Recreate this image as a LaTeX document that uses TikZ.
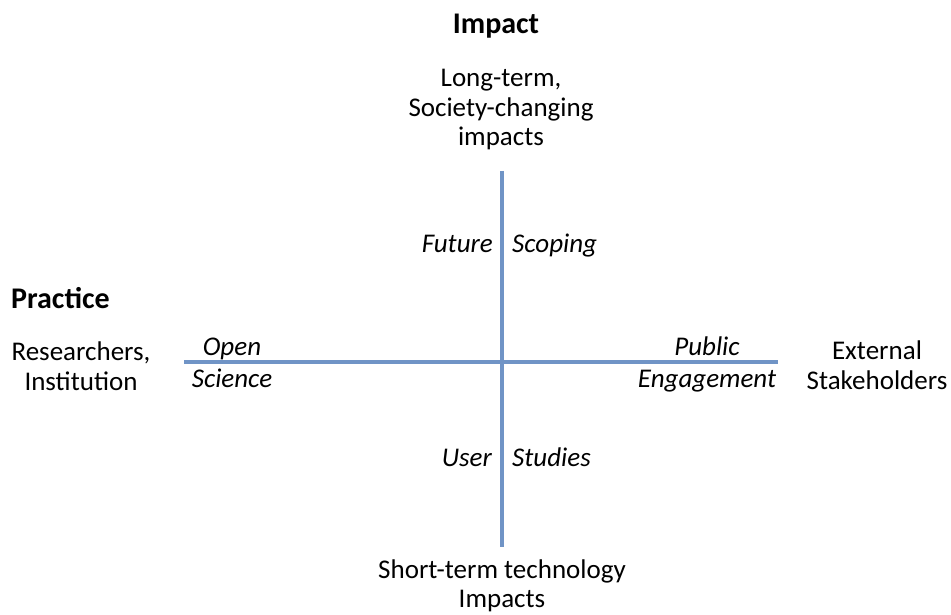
\documentclass[tikz,border=0pt]{standalone}
\usepackage{fontspec}
\setmainfont{Carlito}
\usepackage{tikz}

\definecolor{axisblue}{RGB}{112,148,198}

\begin{document}
\begin{tikzpicture}[x=1pt,y=-1pt,
  lbl/.style={inner sep=0pt,font=\fontsize{27}{29.5}\selectfont,align=center},
  quad/.style={lbl,font=\fontsize{27}{29.5}\selectfont\itshape},
  head/.style={lbl,font=\fontsize{30}{33}\selectfont\bfseries}]
\useasboundingbox (0,0) rectangle (951,615);

\coordinate (top) at (502,171);
\coordinate (bottom) at (502,547);
\coordinate (left) at (184,362);
\coordinate (right) at (778,362);
\draw[axisblue, line width=3.4pt] (top) -- (bottom);
\draw[axisblue, line width=3.4pt] (left) -- (right);

\node[head, anchor=base] (impact) at (496,34) {Impact};
\node[lbl] (longterm) at (501,110) {Long-term,\\Society-changing\\impacts};
\node[lbl] (shortterm) at (502,586) {Short-term technology\\Impacts};

\node[head, anchor=base west] (practice) at (11,308) {Practice};
\node[lbl] (researchers) at (81,366) {Researchers,\\Institution};
\node[lbl] (external) at (877,365) {External\\Stakeholders};

\node[quad, anchor=base east] (future) at (493,252) {Future};
\node[quad, anchor=base west] (scoping) at (512,252) {Scoping};
\node[quad, anchor=base east] (user) at (492,466) {User};
\node[quad, anchor=base west] (studies) at (512,466) {Studies};

\node[quad, anchor=base] (open) at (232,355) {Open};
\node[quad, anchor=base] (science) at (232,387) {Science};
\node[quad, anchor=base] (public) at (707,355) {Public};
\node[quad, anchor=base] (engagement) at (707,387) {Engagement};

\end{tikzpicture}
\end{document}
